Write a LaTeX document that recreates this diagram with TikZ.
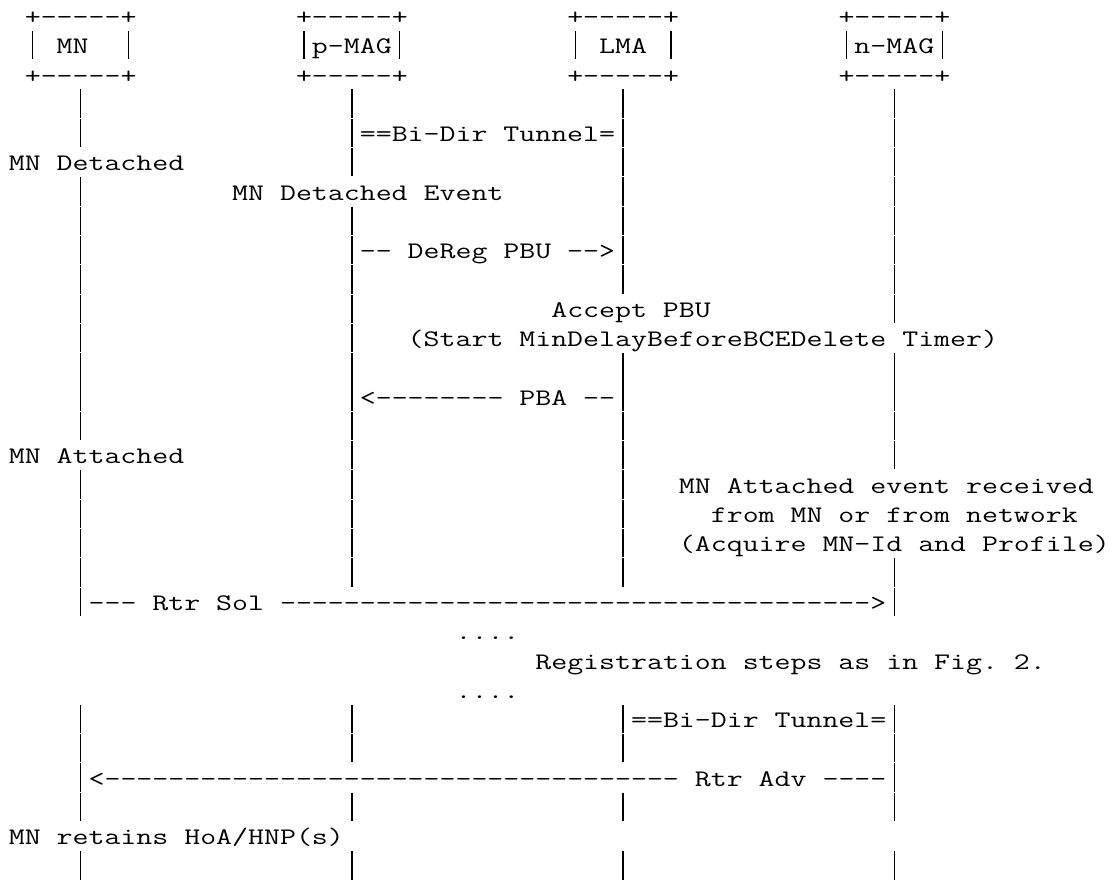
\documentclass[tikz,border=0pt]{standalone}
\usepackage{tikz}

\newlength{\larg}
\newcommand{\fonte}{\ttfamily\fontsize{17.8}{21}\selectfont\frenchspacing}
\newcommand{\tracos}[1]{\foreach \i in {1,...,#1}{-}}
\AtBeginDocument{\settowidth{\larg}{\fonte M}}

\begin{document}
\begin{tikzpicture}[x=11.96625pt, y=-21.975pt]
            % Fonte ajustada à grade de caracteres
            \pgfmathsetmacro{\esc}{11.96625pt/\larg}
            \tikzstyle{txt}=[anchor=base west, inner sep=0pt, outer sep=0pt, font=\fonte, xscale=\esc, transform shape]
            \tikzstyle{barra}=[line width=1pt]

            \path[use as bounding box, fill=white] (2.9458,-0.833) rectangle (72.516,29.236);

            % Caixas
            \node[txt] (mnT) at (4.5,0) {+-----+};
            \node[txt] (pmagT) at (21.5,0) {+-----+};
            \node[txt] (lmaT) at (38.5,0) {+-----+};
            \node[txt] (nmagT) at (55.5,0) {+-----+};
            \node[txt] (mn) at (6.5,1) {MN};
            \node[txt] (pmag) at (22.5,1) {p-MAG};
            \node[txt] (lma) at (40.5,1) {LMA};
            \node[txt] (nmag) at (56.5,1) {n-MAG};
            \node[txt] (mnB) at (4.5,2) {+-----+};
            \node[txt] (pmagB) at (21.5,2) {+-----+};
            \node[txt] (lmaB) at (38.5,2) {+-----+};
            \node[txt] (nmagB) at (55.5,2) {+-----+};
            \foreach \c in {5,11,22,28,39,45,56,62}
                \draw[barra] (\c,0.22) -- (\c,1.19);

            % Linhas de vida
            \foreach \r in {3,4,6,7,8,9,10,11,12,13,14,16,17,18,19,20,24,25,26,27,29}
                \draw[barra] (8,\r-0.78) -- (8,\r+0.19);
            \foreach \r in {3,4,5,7,8,9,10,11,12,13,14,15,16,17,18,19,24,25,27,29}
                \draw[barra] (25,\r-0.78) -- (25,\r+0.19);
            \foreach \r in {3,4,5,6,7,8,9,12,13,14,15,16,17,18,19,24,25,27,29}
                \draw[barra] (42,\r-0.78) -- (42,\r+0.19);
            \foreach \r in {3,4,5,6,7,8,9,10,12,13,14,15,19,20,24,25,26,27,29}
                \draw[barra] (59,\r-0.78) -- (59,\r+0.19);

            % Mensagens
            \node[txt] (tunel1) at (25.5,4) {==Bi-Dir Tunnel=};
            \node[txt] (desl) at (3.5,5) {MN Detached};
            \node[txt] (desev) at (17.5,6) {MN Detached Event};
            \node[txt] (dereg) at (25.5,8) {-- DeReg PBU -->};
            \node[txt] (aceita) at (37.5,10) {Accept PBU};
            \node[txt] (timer) at (28.5,11) {(Start MinDelayBeforeBCEDelete Timer)};
            \node[txt] (pba) at (25.5,13) {<-------- PBA --};
            \node[txt] (lig) at (3.5,15) {MN Attached};
            \node[txt] (ev1) at (45.5,16) {MN Attached event received};
            \node[txt] (ev2) at (47.5,17) {from MN or from network};
            \node[txt] (ev3) at (45.5,18) {(Acquire MN-Id and Profile)};
            \node[txt] (rtrsol) at (8.5,20) {--- Rtr Sol \tracos{37}>};
            \node[txt] (pt1) at (31.5,21) {....};
            \node[txt] (reg) at (36.5,22) {Registration steps as in Fig. 2.};
            \node[txt] (pt2) at (31.5,23) {....};
            \node[txt] (tunel2) at (42.5,24) {==Bi-Dir Tunnel=};
            \node[txt] (rtradv) at (8.5,26) {<\tracos{36} Rtr Adv ----};
            \node[txt] (retem) at (3.5,28) {MN retains HoA/HNP(s)};
        \end{tikzpicture}
\end{document}
